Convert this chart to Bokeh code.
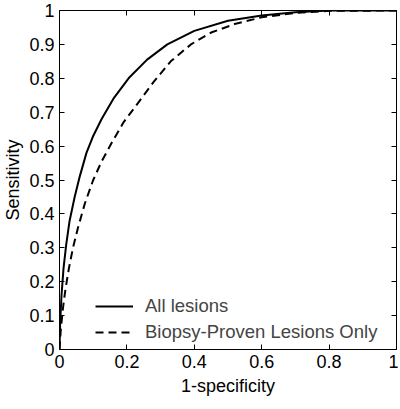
from bokeh.plotting import figure
from bokeh.models import LinearAxis, FixedTicker, Legend, LegendItem
from bokeh.embed import file_html
from bokeh.resources import INLINE

# ROC data (1-specificity, sensitivity)
all_fpr = [0, 0.002, 0.006, 0.012, 0.02, 0.03, 0.045, 0.06, 0.08, 0.1, 0.125, 0.16, 0.205, 0.26, 0.32, 0.4, 0.5, 0.6, 0.7, 0.8, 1.0]
all_tpr = [0, 0.08, 0.16, 0.24, 0.31, 0.38, 0.45, 0.51, 0.58, 0.63, 0.68, 0.74, 0.8, 0.855, 0.9, 0.94, 0.97, 0.985, 0.995, 1.0, 1.0]
bio_fpr = [0, 0.004, 0.01, 0.018, 0.028, 0.04, 0.055, 0.075, 0.1, 0.125, 0.155, 0.19, 0.235, 0.28, 0.33, 0.39, 0.45, 0.52, 0.6, 0.7, 0.8, 1.0]
bio_tpr = [0, 0.06, 0.12, 0.18, 0.24, 0.3, 0.36, 0.43, 0.5, 0.555, 0.61, 0.67, 0.73, 0.79, 0.85, 0.9, 0.935, 0.96, 0.98, 0.993, 0.999, 1.0]

x_ticks = [0, 0.2, 0.4, 0.6, 0.8, 1]
y_ticks = [0, 0.1, 0.2, 0.3, 0.4, 0.5, 0.6, 0.7, 0.8, 0.9, 1]
x_labels = {0: "0", 0.2: "0.2", 0.4: "0.4", 0.6: "0.6", 0.8: "0.8", 1: "1"}
y_labels = {0: "0", 0.1: "0.1", 0.2: "0.2", 0.3: "0.3", 0.4: "0.4", 0.5: "0.5",
            0.6: "0.6", 0.7: "0.7", 0.8: "0.8", 0.9: "0.9", 1: "1"}

FONT = "Liberation Sans"
FS = "18px"

p = figure(width=398, height=401, output_backend="svg", toolbar_location=None,
           x_range=(0, 1), y_range=(0, 1),
           min_border_left=56, min_border_right=2, min_border_top=10, min_border_bottom=52,
           x_axis_label="1-specificity", y_axis_label="Sensitivity")
p.grid.visible = False
p.outline_line_color = "black"
p.outline_line_width = 1
p.background_fill_color = "white"
p.border_fill_color = "white"

def style(ax, ticks, labels):
    ax.ticker = FixedTicker(ticks=ticks)
    ax.major_label_overrides = labels
    ax.major_tick_in = 5
    ax.major_tick_out = 0
    ax.minor_tick_line_color = None
    ax.axis_line_color = "black"
    ax.major_tick_line_color = "black"
    ax.major_label_text_font = FONT
    ax.major_label_text_font_size = FS
    ax.major_label_text_color = "black"
    ax.axis_label_text_font = FONT
    ax.axis_label_text_font_size = FS
    ax.axis_label_text_font_style = "normal"
    ax.axis_label_text_color = "black"

style(p.xaxis[0], x_ticks, x_labels)
style(p.yaxis[0], y_ticks, y_labels)
p.xaxis[0].major_label_standoff = 5
p.xaxis[0].axis_label_standoff = 5
p.yaxis[0].major_label_standoff = 5
p.yaxis[0].axis_label_standoff = 3

top = LinearAxis()
right = LinearAxis()
style(top, x_ticks, {t: "" for t in x_ticks})
style(right, y_ticks, {t: "" for t in y_ticks})
top.major_label_standoff = 0
right.major_label_standoff = 0
top.major_label_text_font_size = "1px"
right.major_label_text_font_size = "1px"
p.add_layout(top, "above")
p.add_layout(right, "right")

r1 = p.line(all_fpr, all_tpr, line_color="black", line_width=2)
r2 = p.line(bio_fpr, bio_tpr, line_color="black", line_width=2, line_dash="8 5")

legend = Legend(items=[LegendItem(label="All lesions", renderers=[r1]),
                       LegendItem(label="Biopsy-Proven Lesions Only", renderers=[r2])],
                location=(36, 6), border_line_color=None, background_fill_alpha=0,
                label_text_font=FONT, label_text_font_size="18.5px", glyph_width=38,
                label_standoff=12, spacing=4, padding=4)
p.add_layout(legend)

open("out.html", "w").write(file_html(p, INLINE))
